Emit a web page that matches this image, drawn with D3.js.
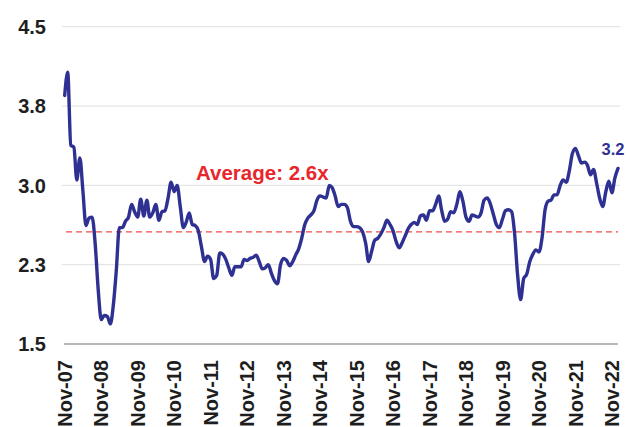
<!DOCTYPE html>
<html>
<head>
<meta charset="utf-8">
<script src="https://cdn.jsdelivr.net/npm/d3@7"></script>
<style>
  html, body { margin: 0; padding: 0; background: #ffffff; }
  svg { display: block; }
  text { font-family: "Liberation Sans", Arial, sans-serif; font-weight: bold; }
</style>
</head>
<body>
<svg id="chart" width="639" height="427"></svg>
<script>
// Monthly valuation multiple, Nov-2007 through Jan-2023
const startMonth = new Date(2007, 10, 1);
const endMonth = new Date(2023, 0, 1);

const multiple = [
  3.85, 4.07, 3.38, 3.36, 3.05, 3.26, 2.95, 2.62, 2.69, 2.70,
  2.45, 2.02, 1.73, 1.77, 1.76, 1.69, 1.86, 2.20, 2.60, 2.60,
  2.66, 2.70, 2.82, 2.75, 2.70, 2.87, 2.71, 2.86, 2.70, 2.74,
  2.82, 2.67, 2.75, 2.76, 2.88, 3.03, 2.94, 3.00, 2.80, 2.60,
  2.65, 2.74, 2.63, 2.62, 2.57, 2.42, 2.28, 2.33, 2.30, 2.12,
  2.15, 2.36, 2.35, 2.30, 2.22, 2.15, 2.23, 2.23, 2.23, 2.30,
  2.29, 2.31, 2.32, 2.34, 2.28, 2.21, 2.22, 2.25, 2.17, 2.10,
  2.07, 2.25, 2.31, 2.29, 2.24, 2.28, 2.34, 2.40, 2.50, 2.63,
  2.69, 2.72, 2.76, 2.86, 2.90, 2.89, 2.88, 3.00, 2.98, 2.90,
  2.80, 2.82, 2.82, 2.79, 2.66, 2.61, 2.61, 2.60, 2.56, 2.45,
  2.28, 2.38, 2.48, 2.50, 2.54, 2.60, 2.67, 2.63, 2.57, 2.47,
  2.41, 2.46, 2.52, 2.59, 2.63, 2.65, 2.63, 2.71, 2.72, 2.67,
  2.76, 2.76, 2.82, 2.90, 2.77, 2.66, 2.68, 2.75, 2.74, 2.82,
  2.94, 2.85, 2.70, 2.66, 2.72, 2.71, 2.70, 2.74, 2.86, 2.88,
  2.83, 2.73, 2.63, 2.60, 2.68, 2.76, 2.77, 2.75, 2.55, 2.15,
  1.92, 2.12, 2.16, 2.28, 2.35, 2.39, 2.37, 2.50, 2.77, 2.85,
  2.86, 2.91, 2.91, 3.00, 3.05, 3.03, 3.14, 3.30, 3.35, 3.28,
  3.21, 3.22, 3.19, 3.10, 3.15, 3.02, 2.88, 2.80, 2.94, 3.04,
  2.93, 3.07, 3.16
];

const averageMultiple = 2.56;

const yTicks = [1.5, 2.25, 3.0, 3.75, 4.5];
const xTickYears = [2007, 2008, 2009, 2010, 2011, 2012, 2013, 2014,
                    2015, 2016, 2017, 2018, 2019, 2020, 2021, 2022];

const months = d3.timeMonth.range(startMonth, d3.timeMonth.offset(endMonth, 1));
const series = months.map((d, i) => ({ date: d, value: multiple[i] }));

const svg = d3.select("#chart");

const x = d3.scaleTime().domain([startMonth, endMonth]).range([64.7, 618]);
const y = d3.scaleLinear().domain([1.5, 4.5]).range([344, 26.7]);

const fmt1 = d3.format(".1f");
const navy = "#2e3192";

// horizontal gridlines
svg.append("g")
  .selectAll("line")
  .data(yTicks.slice(1))
  .join("line")
  .attr("x1", 62).attr("x2", 620)
  .attr("y1", d => y(d)).attr("y2", d => y(d))
  .attr("stroke", "#e4e6e6")
  .attr("stroke-width", 1.2);

// baseline axis
svg.append("line")
  .attr("x1", 64).attr("x2", 618)
  .attr("y1", y(1.5)).attr("y2", y(1.5))
  .attr("stroke", "#707070")
  .attr("stroke-width", 1.2);

// y tick labels
svg.append("g")
  .selectAll("text")
  .data(yTicks)
  .join("text")
  .attr("x", 46)
  .attr("y", d => y(d))
  .attr("dy", "0.36em")
  .attr("text-anchor", "end")
  .attr("font-size", 20)
  .attr("fill", "#1e1e1e")
  .text(d => fmt1(d));

// x tick labels, rotated
const xTicks = xTickYears.map(yr => new Date(yr, 10, 1));
const xFmt = d3.timeFormat("%b-%y");
svg.append("g")
  .selectAll("text")
  .data(xTicks)
  .join("text")
  .attr("transform", d => `translate(${x(d)},360) rotate(-90)`)
  .attr("text-anchor", "end")
  .attr("dy", "0.36em")
  .attr("font-size", 20)
  .attr("fill", "#1e1e1e")
  .text(d => xFmt(d));

// average reference line
svg.append("line")
  .attr("x1", 66).attr("x2", 618)
  .attr("y1", y(averageMultiple)).attr("y2", y(averageMultiple))
  .attr("stroke", "#ef4b4b")
  .attr("stroke-width", 1.3)
  .attr("stroke-dasharray", "6,4");

svg.append("text")
  .attr("x", 196)
  .attr("y", 180)
  .attr("font-size", 20.5)
  .attr("fill", "#e8262b")
  .text(`Average: ${fmt1(averageMultiple)}x`);

// multiple line
const line = d3.line()
  .x(d => x(d.date))
  .y(d => y(d.value))
  .curve(d3.curveMonotoneX);

svg.append("path")
  .datum(series)
  .attr("d", line)
  .attr("fill", "none")
  .attr("stroke", navy)
  .attr("stroke-width", 3.4)
  .attr("stroke-linejoin", "round")
  .attr("stroke-linecap", "round");

// latest value label
const last = series[series.length - 1];
svg.append("text")
  .attr("x", 613)
  .attr("y", 155)
  .attr("text-anchor", "middle")
  .attr("font-size", 16.5)
  .attr("fill", navy)
  .text(fmt1(last.value));
</script>
</body>
</html>
